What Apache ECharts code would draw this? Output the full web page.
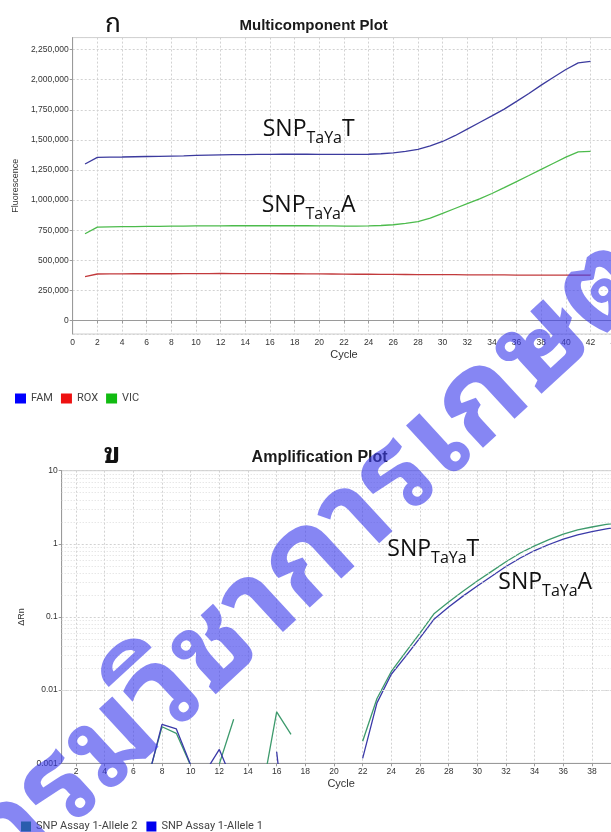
<!DOCTYPE html>
<html><head><meta charset="utf-8">
<script src="https://cdn.jsdelivr.net/npm/echarts@6/dist/echarts.min.js"></script>
<style>html,body{margin:0;padding:0;background:#fff}#c{width:611px;height:832px}</style>
</head><body><div id="c"></div>
<script>
// ---------- Multicomponent plot (top) ----------
const cyclesTop = [1,2,3,4,5,6,7,8,9,10,11,12,13,14,15,16,17,18,19,20,21,22,23,24,25,26,27,28,29,30,31,32,33,34,35,36,37,38,39,40,41,42];
const famValues = [1300000,1355000,1357000,1358000,1360000,1362000,1364000,1366000,1368000,1371000,1373000,1375000,1377000,1378000,1379000,1380000,1381000,1381000,1381000,1380000,1380000,1379000,1379000,1381000,1385000,1393000,1405000,1422000,1450000,1487000,1535000,1590000,1645000,1700000,1756000,1820000,1885000,1955000,2020000,2085000,2140000,2152000];
const roxValues = [365000,386000,387000,387000,388000,388000,388000,388000,389000,389000,389000,390000,389000,389000,389000,389000,388000,388000,387000,387000,386000,385000,384000,384000,383000,383000,382000,381000,381000,380000,380000,379000,379000,378000,378000,377000,377000,377000,376000,376000,376000,376000];
const vicValues = [720000,776000,778000,779000,780000,781000,782000,783000,784000,785000,786000,786000,787000,787000,787000,787000,787000,787000,787000,786000,785000,784000,783000,785000,789000,795000,806000,822000,850000,890000,930000,970000,1010000,1055000,1104000,1154000,1204000,1255000,1306000,1357000,1400000,1405000];

// ---------- Amplification plot (bottom) ----------
const cyclesAmp = [1,2,3,4,5,6,7,8,9,10,11,12,13,14,15,16,17,18,19,20,21,22,23,24,25,26,27,28,29,30,31,32,33,34,35,36,37,38,39,40];
const allele2Values = [null,null,null,null,null,null,0.00061,0.00316,0.00257,0.00093,null,0.00098,0.0040,null,0.00042,0.00506,0.00249,null,null,null,null,0.0020,0.0077,0.018,0.033,0.060,0.112,0.160,0.225,0.31,0.42,0.57,0.75,0.94,1.14,1.36,1.55,1.70,1.84,1.96];
const allele1Values = [null,null,null,null,null,null,0.00059,0.0034,0.00295,0.00095,0.00075,0.00155,0.00052,null,null,0.00144,0.000027,null,null,null,null,0.00117,0.0067,0.0165,0.029,0.052,0.094,0.137,0.193,0.265,0.36,0.49,0.64,0.81,0.98,1.16,1.33,1.47,1.60,1.72];
const logDecades = [0.001, 0.01, 0.1, 1];
const logMinorSteps = [2,3,4,5,6,7,8,9];

const pairs = (xs, ys) => xs.map((x, i) => [x, ys[i]]);
const minorGrid = [];
logDecades.forEach(d => logMinorSteps.forEach(m => minorGrid.push({ yAxis: +(d * m).toPrecision(3) })));

const FONT = '"Liberation Sans", Arial, sans-serif';
const THAI = '"Noto Sans Thai Looped", Loma, Garuda, Sawasdee, "Noto Sans Thai", "Noto Sans", sans-serif';
const tickLbl = { color: '#333', fontSize: 8.5, fontFamily: FONT, margin: 4 };
const dotted = { show: true, lineStyle: { color: '#d2d2d2', type: [2, 2], width: 1 } };
const axLine = { show: true, lineStyle: { color: '#9a9a9a', width: 1 } };
const axTick = { show: true, length: 3, lineStyle: { color: '#9a9a9a' } };

function snp(x, y, last) {
  return {
    type: 'text', x: x, y: y, z: 50,
    style: {
      text: '{a|SNP}{b|TaYa}{a|' + last + '}',
      fill: '#111', align: 'left', verticalAlign: 'top',
      rich: {
        a: { fontSize: 23, fontFamily: '"Open Sans", sans-serif', lineHeight: 34, fill: '#111' },
        b: { fontSize: 16, fontFamily: '"Open Sans", sans-serif', lineHeight: 16, verticalAlign: 'bottom', fill: '#111' }
      }
    }
  };
}

const chart = echarts.init(document.getElementById('c'), null, { renderer: 'canvas', width: 611, height: 832 });
chart.setOption({
  animation: false,
  backgroundColor: '#ffffff',
  grid: [
    { left: 72.7, top: 37.6, width: 542.5, height: 296.4, show: true, borderColor: '#cfcfcf', borderWidth: 1, containLabel: false, outerBoundsMode: 'none' },
    { left: 61.7, top: 470.7, width: 558.9, height: 292.6, show: true, borderColor: '#cfcfcf', borderWidth: 1, containLabel: false, outerBoundsMode: 'none' }
  ],
  xAxis: [
    { gridIndex: 0, type: 'value', min: 0, max: 44, interval: 2,
      axisLine: axLine, axisTick: axTick, splitLine: dotted, axisLabel: tickLbl,
      name: 'Cycle', nameLocation: 'middle', nameGap: 15,
      nameTextStyle: { fontSize: 11, color: '#333', fontFamily: FONT } },
    { gridIndex: 1, type: 'value', min: 1, max: 40, minInterval: 2, maxInterval: 2,
      axisLine: axLine, axisTick: axTick, splitLine: dotted,
      axisLabel: Object.assign({}, tickLbl, { showMinLabel: false }),
      name: 'Cycle', nameLocation: 'middle', nameGap: 15,
      nameTextStyle: { fontSize: 11, color: '#333', fontFamily: FONT } }
  ],
  yAxis: [
    { gridIndex: 0, type: 'value', min: -112500, max: 2350000, minInterval: 250000, maxInterval: 250000,
      axisLine: axLine, axisTick: axTick, splitLine: dotted,
      axisLabel: Object.assign({}, tickLbl, { showMinLabel: false, showMaxLabel: false,
        formatter: v => Number(v).toLocaleString('en-US') }),
      name: 'Fluorescence', nameLocation: 'middle', nameGap: 50,
      nameTextStyle: { fontSize: 9, color: '#333', fontFamily: FONT } },
    { gridIndex: 1, type: 'log', logBase: 10, min: 0.001, max: 10,
      axisLine: axLine, axisTick: axTick, splitLine: dotted,
      axisLabel: Object.assign({}, tickLbl, { formatter: v => String(+Number(v).toPrecision(2)) }),
      name: 'ΔRn', nameLocation: 'middle', nameGap: 33,
      nameTextStyle: { fontSize: 9, color: '#333', fontFamily: FONT } }
  ],
  legend: [
    { left: 15, top: 393, padding: 0, orient: 'horizontal', icon: 'rect', itemWidth: 11, itemHeight: 10, itemGap: 8,
      selectedMode: false, textStyle: { fontSize: 11, color: '#444', fontFamily: 'Roboto, sans-serif' },
      data: [ { name: 'FAM', itemStyle: { color: '#0000ff' } },
              { name: 'ROX', itemStyle: { color: '#ee1111' } },
              { name: 'VIC', itemStyle: { color: '#11bb11' } } ] },
    { left: 21, top: 821, padding: 0, orient: 'horizontal', icon: 'rect', itemWidth: 10, itemHeight: 10, itemGap: 9,
      selectedMode: false, textStyle: { fontSize: 11, color: '#444', fontFamily: 'Roboto, sans-serif' },
      data: [ { name: 'SNP Assay 1-Allele 2', itemStyle: { color: '#0b9447' } },
              { name: 'SNP Assay 1-Allele 1', itemStyle: { color: '#0000ee' } } ] }
  ],
  series: [
    { name: 'FAM', type: 'line', xAxisIndex: 0, yAxisIndex: 0, data: pairs(cyclesTop, famValues),
      showSymbol: false, lineStyle: { color: '#3c3b9e', width: 1.3 }, itemStyle: { color: '#3c3b9e' }, emphasis: { disabled: true } },
    { name: 'ROX', type: 'line', xAxisIndex: 0, yAxisIndex: 0, data: pairs(cyclesTop, roxValues),
      showSymbol: false, lineStyle: { color: '#c23a3c', width: 1.3 }, itemStyle: { color: '#c23a3c' }, emphasis: { disabled: true } },
    { name: 'VIC', type: 'line', xAxisIndex: 0, yAxisIndex: 0, data: pairs(cyclesTop, vicValues),
      showSymbol: false, lineStyle: { color: '#4cbb4c', width: 1.3 }, itemStyle: { color: '#4cbb4c' }, emphasis: { disabled: true } },
    { name: 'SNP Assay 1-Allele 2', type: 'line', xAxisIndex: 1, yAxisIndex: 1, data: pairs(cyclesAmp, allele2Values),
      showSymbol: false, connectNulls: false, clip: true,
      lineStyle: { color: '#3d9a6c', width: 1.3 }, itemStyle: { color: '#3d9a6c' }, emphasis: { disabled: true },
      markLine: { silent: true, symbol: ['none', 'none'], animation: false, label: { show: false },
        lineStyle: { color: '#dcdcdc', type: [1, 2], width: 1 }, emphasis: { disabled: true }, data: minorGrid } },
    { name: 'SNP Assay 1-Allele 1', type: 'line', xAxisIndex: 1, yAxisIndex: 1, data: pairs(cyclesAmp, allele1Values),
      showSymbol: false, connectNulls: false, clip: true,
      lineStyle: { color: '#3a39a8', width: 1.3 }, itemStyle: { color: '#3a39a8' }, emphasis: { disabled: true } }
  ],
  graphic: [
    { type: 'text', x: 313.7, y: 25.5, style: { text: 'Multicomponent Plot', fontSize: 15, fontWeight: 'bold', fontFamily: FONT, fill: '#1a1a1a', align: 'center', verticalAlign: 'middle' } },
    { type: 'text', x: 319.6, y: 457.5, style: { text: 'Amplification Plot', fontSize: 16, fontWeight: 'bold', fontFamily: FONT, fill: '#1a1a1a', align: 'center', verticalAlign: 'middle' } },
    { type: 'text', x: 113, y: 25, style: { text: 'ก', fontSize: 26, fontFamily: THAI, fill: '#111', align: 'center', verticalAlign: 'middle' } },
    { type: 'text', x: 112, y: 455, style: { text: 'ข', fontSize: 28, fontWeight: 'bold', fontFamily: THAI, fill: '#111', align: 'center', verticalAlign: 'middle' } },
    snp(262.7, 112, 'T'),
    snp(261.7, 188.5, 'A'),
    snp(387.3, 532, 'T'),
    snp(498.3, 565, 'A'),
    { type: 'text', x: 330, y: 542, rotation: 0.745, z: 100, silent: true,
      style: { text: 'กรมวิชาการเกษตร', fontSize: 122, fontWeight: 'bold', fontFamily: THAI,
        fill: 'rgba(60,60,235,0.62)', align: 'center', verticalAlign: 'middle' } }
  ]
});
</script></body></html>
